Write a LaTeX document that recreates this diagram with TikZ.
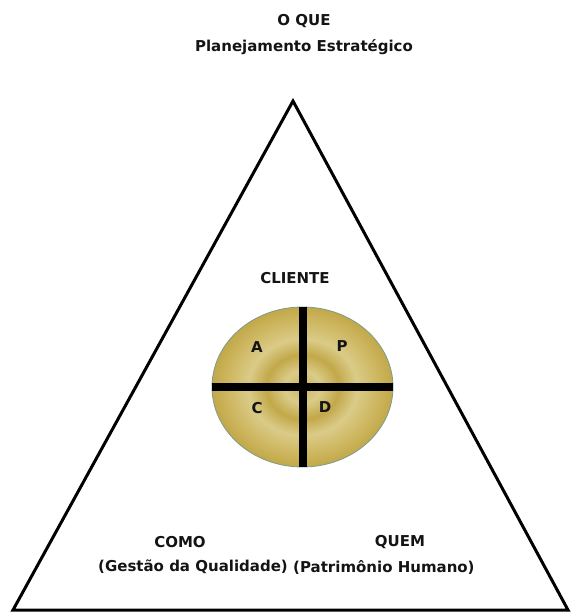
\documentclass[tikz,border=0pt]{standalone}
\usepackage{fontspec}
\setmainfont{DejaVu Sans}
\usetikzlibrary{shapes.geometric}

\definecolor{ringDark}{HTML}{C2A849}
\definecolor{ringMid}{HTML}{CDB65F}
\definecolor{ringLight}{HTML}{DACB88}
\pgfdeclareradialshading{goldRings}{\pgfpoint{0bp}{0bp}}{color(0bp)=(ringMid); color(5bp)=(ringLight); color(10bp)=(ringDark); color(15bp)=(ringLight); color(21bp)=(ringMid); color(25bp)=(ringDark); color(50bp)=(ringDark)}

\begin{document}
\begin{tikzpicture}[x=1pt, y=-1pt,
    headText/.style={font=\bfseries\fontsize{15}{18}\selectfont, text=textColour, inner sep=0pt, align=center},
    letter/.style={font=\bfseries\fontsize{15}{17}\selectfont, text=textColour, inner sep=0pt}]
    \definecolor{borderColour}{HTML}{000000}
    \definecolor{textColour}{HTML}{141414}
    \definecolor{rimColour}{HTML}{7E9C8C}

    \useasboundingbox (0,0) rectangle (570,612);

    % Triangle corners
    \coordinate (apex) at (293,101);
    \coordinate (baseL) at (13,610);
    \coordinate (baseR) at (568,610);
    \draw[borderColour, line width=3pt, line join=miter] (apex) -- (baseR) -- (baseL) -- cycle;

    % Headings
    \node[headText] (oque) at (304,21) {O QUE};
    \node[headText] (plano) at (304,47) {Planejamento Estratégico};
    \node[headText] (cliente) at (295,278) {CLIENTE};
    \node[headText] (como) at (180,542) {COMO};
    \node[headText] (quem) at (400,542) {QUEM};
    \node[headText, anchor=east] (gestao) at (288,567) {(Gestão da Qualidade)};
    \node[headText, anchor=west] (patrim) at (293,567) {(Patrimônio Humano)};

    % PDCA disc
    \node[ellipse, draw=rimColour, line width=0.8pt, shading=goldRings,
          minimum width=181pt, minimum height=160pt, inner sep=0pt] (disc) at (302.5,387) {};
    \draw[borderColour, line width=7.5pt] (disc.north -| 303,0) -- (disc.south -| 303,0);
    \draw[borderColour, line width=7.5pt] (disc.west) -- (disc.east);

    % Quadrant letters
    \node[letter] (qa) at (257,347) {A};
    \node[letter] (qp) at (342,346) {P};
    \node[letter] (qc) at (257,408) {C};
    \node[letter] (qd) at (325,407) {D};
\end{tikzpicture}
\end{document}
